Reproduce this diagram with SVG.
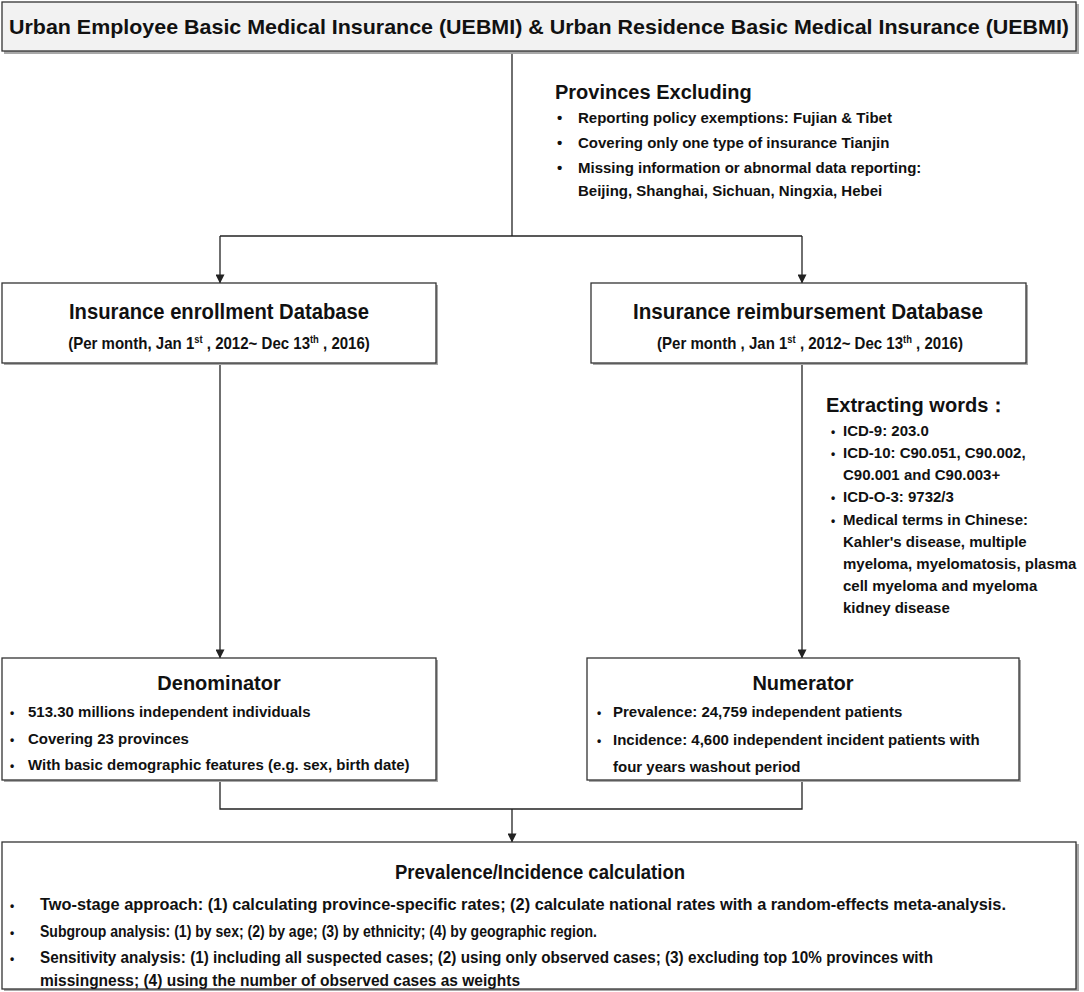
<svg xmlns="http://www.w3.org/2000/svg" width="1084" height="992" viewBox="0 0 1084 992">
<style>
text{font-family:"Liberation Sans",Arial,sans-serif;font-weight:bold;fill:#111}
.box{fill:#fff;stroke:#333;stroke-width:1.3}
.shadow{fill:#a8a8a8}
.h{font-size:20px}
.b{font-size:15px}
.n{font-size:16px}
.conn{fill:none;stroke:#222;stroke-width:1.3}
</style>
<defs>
<marker id="arr" viewBox="0 0 10 10" refX="9.5" refY="5" markerWidth="9" markerHeight="9" markerUnits="userSpaceOnUse" orient="auto">
<path d="M0,0 L10,5 L0,10 z" fill="#222"/>
</marker>
</defs>
<rect width="1084" height="992" fill="#fff"/>

<g id="connectors">
<path class="conn" d="M512,52 V236"/>
<path class="conn" d="M220,236 H802"/>
<path class="conn" d="M220,236 V283" marker-end="url(#arr)"/>
<path class="conn" d="M802,236 V283" marker-end="url(#arr)"/>
<path class="conn" d="M220,363 V658" marker-end="url(#arr)"/>
<path class="conn" d="M802,363 V658" marker-end="url(#arr)"/>
<path class="conn" d="M220,780 V809 H802 V780"/>
<path class="conn" d="M512,809 V842" marker-end="url(#arr)"/>
</g>

<g id="node-top">
<rect class="shadow" x="4" y="4" width="1075" height="50"/>
<rect x="2" y="2" width="1074" height="49" fill="#f2f2f2" stroke="#333" stroke-width="1.3"/>
<text x="539" y="34" font-size="21" text-anchor="middle" textLength="1060" lengthAdjust="spacingAndGlyphs">Urban Employee Basic Medical Insurance (UEBMI) &amp; Urban Residence Basic Medical Insurance (UEBMI)</text>
</g>

<g id="node-exclusion">
<text x="555" y="99" class="h">Provinces Excluding</text>
<text x="557" y="123" class="b">•</text>
<text x="578" y="123" class="b">Reporting policy exemptions: Fujian &amp; Tibet</text>
<text x="557" y="148" class="b">•</text>
<text x="578" y="148" class="b">Covering only one type of insurance Tianjin</text>
<text x="557" y="173" class="b">•</text>
<text x="578" y="173" class="b">Missing information or abnormal data reporting:</text>
<text x="578" y="196" class="b">Beijing, Shanghai, Sichuan, Ningxia, Hebei</text>
</g>

<g id="node-enrollment">
<rect class="shadow" x="4" y="285" width="434" height="80"/>
<rect class="box" x="2" y="283" width="434" height="80"/>
<text x="219" y="319" font-size="22" text-anchor="middle" textLength="300" lengthAdjust="spacingAndGlyphs">Insurance enrollment Database</text>
<g transform="translate(219,349) scale(0.94,1)">
<text x="0" y="0" font-size="16" text-anchor="middle">(Per month, Jan 1<tspan font-size="10" dy="-6">st</tspan><tspan dy="6"> , 2012~ Dec 13</tspan><tspan font-size="10" dy="-6">th</tspan><tspan dy="6"> , 2016)</tspan></text>
</g>
</g>

<g id="node-reimbursement">
<rect class="shadow" x="593" y="285" width="435" height="80"/>
<rect class="box" x="591" y="283" width="435" height="80"/>
<text x="808" y="319" font-size="22" text-anchor="middle" textLength="350" lengthAdjust="spacingAndGlyphs">Insurance reimbursement Database</text>
<g transform="translate(810,349) scale(0.94,1)">
<text x="0" y="0" font-size="16" text-anchor="middle">(Per month , Jan 1<tspan font-size="10" dy="-6">st</tspan><tspan dy="6"> , 2012~ Dec 13</tspan><tspan font-size="10" dy="-6">th</tspan><tspan dy="6"> , 2016)</tspan></text>
</g>
</g>

<g id="node-extracting">
<text x="826" y="412" class="h">Extracting words：</text>
<text x="831" y="436" font-size="12">•</text>
<text x="843" y="436" class="b">ICD-9: 203.0</text>
<text x="831" y="458" font-size="12">•</text>
<text x="843" y="458" class="b">ICD-10: C90.051, C90.002,</text>
<text x="843" y="480" class="b">C90.001 and C90.003+</text>
<text x="831" y="502" font-size="12">•</text>
<text x="843" y="502" class="b">ICD-O-3: 9732/3</text>
<text x="831" y="525" font-size="12">•</text>
<text x="843" y="525" class="b">Medical terms in Chinese:</text>
<text x="843" y="547" class="b">Kahler's disease, multiple</text>
<text x="843" y="569" class="b">myeloma, myelomatosis, plasma</text>
<text x="843" y="591" class="b">cell myeloma and myeloma</text>
<text x="843" y="613" class="b">kidney disease</text>
</g>

<g id="node-denominator">
<rect class="shadow" x="4" y="660" width="434" height="122"/>
<rect class="box" x="2" y="658" width="434" height="122"/>
<text x="219" y="690" class="h" text-anchor="middle">Denominator</text>
<text x="10" y="717" font-size="12">•</text>
<text x="28" y="717" class="b">513.30 millions independent individuals</text>
<text x="10" y="744" font-size="12">•</text>
<text x="28" y="744" class="b">Covering 23 provinces</text>
<text x="10" y="770" font-size="12">•</text>
<text x="28" y="770" class="b">With basic demographic features (e.g. sex, birth date)</text>
</g>

<g id="node-numerator">
<rect class="shadow" x="589" y="660" width="432" height="122"/>
<rect class="box" x="587" y="658" width="432" height="122"/>
<text x="803" y="690" class="h" text-anchor="middle">Numerator</text>
<text x="597" y="717" font-size="12">•</text>
<text x="613" y="717" class="b">Prevalence: 24,759 independent patients</text>
<text x="597" y="745" font-size="12">•</text>
<text x="613" y="745" class="b">Incidence: 4,600 independent incident patients with</text>
<text x="613" y="772" class="b">four years washout period</text>
</g>

<g id="node-calculation">
<rect class="shadow" x="4" y="844" width="1075" height="147"/>
<rect class="box" x="2" y="842" width="1074" height="147"/>
<text x="540" y="879" font-size="21" text-anchor="middle" textLength="290" lengthAdjust="spacingAndGlyphs">Prevalence/Incidence calculation</text>
<text x="10" y="910" font-size="12">•</text>
<text x="40" y="910" class="n" textLength="966" lengthAdjust="spacingAndGlyphs">Two-stage approach: (1) calculating province-specific rates; (2) calculate national rates with a random-effects meta-analysis.</text>
<text x="10" y="937" font-size="12">•</text>
<text x="40" y="937" class="n" textLength="557" lengthAdjust="spacingAndGlyphs">Subgroup analysis: (1) by sex; (2) by age; (3) by ethnicity; (4) by geographic region.</text>
<text x="10" y="963" font-size="12">•</text>
<text x="40" y="963" class="n" textLength="893" lengthAdjust="spacingAndGlyphs">Sensitivity analysis: (1) including all suspected cases; (2) using only observed cases; (3) excluding top 10% provinces with</text>
<text x="40" y="986" class="n" textLength="480" lengthAdjust="spacingAndGlyphs">missingness; (4) using the number of observed cases as weights</text>
</g>
</svg>
